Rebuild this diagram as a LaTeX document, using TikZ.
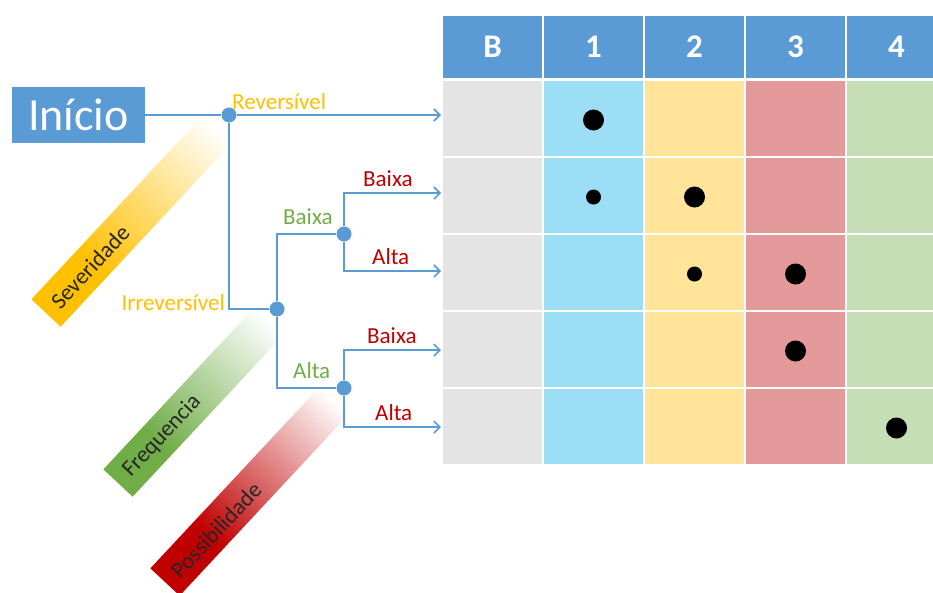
\documentclass[tikz,border=0pt]{standalone}
\usepackage{fontspec}
\setmainfont{Carlito}
\usetikzlibrary{arrows.meta}

\definecolor{lineblue}{HTML}{5B9BD5}
\definecolor{hdrblue}{HTML}{5B9BD5}
\definecolor{cgray}{HTML}{E4E4E4}
\definecolor{cblue}{HTML}{9DDEF7}
\definecolor{cyel}{HTML}{FFE499}
\definecolor{cred}{HTML}{E49A9A}
\definecolor{cgreen}{HTML}{C5DEB5}
\definecolor{txtyellow}{HTML}{FFC000}
\definecolor{txtgreen}{HTML}{70AD47}
\definecolor{txtred}{HTML}{C00000}

% a slanted band, solid at its foot and fading to white towards its head
\newcommand\gradband[4]{%
  \begin{scope}[shift={(#1,#2)}, rotate=47]
    \foreach \i in {0,...,59}{
      \pgfmathsetmacro\p{max(0,min(100,100*(1-(\i/60-0.25)/0.75)))}
      \fill[#4!\p!white] ({#3*\i/60},-20) rectangle ({#3*(\i+1)/60+0.6},20);
    }
  \end{scope}}

\begin{document}
\begin{tikzpicture}[x=1pt,y=-1pt,
  flow/.style={draw=lineblue, line width=2pt},
  arr/.style={flow, -{Straight Barb[length=6pt,width=12pt,line width=1.6pt]}},
  jn/.style={circle, fill=lineblue, minimum size=15pt, inner sep=0},
  lbl/.style={font=\fontsize{23}{27}\selectfont, inner sep=0, anchor=base west},
  bandtxt/.style={font=\fontsize{23}{27}\selectfont, inner sep=0, rotate=47, text=black!85},
  startbox/.style={fill=hdrblue, text=white, minimum width=133pt, minimum height=56pt,
    inner sep=0, font=\fontsize{46}{50}\selectfont},
  hcell/.style={fill=hdrblue, text=white, minimum width=99pt, minimum height=62pt,
    inner sep=0, font=\fontsize{33}{36}\selectfont\bfseries},
  cell/.style={minimum width=99pt, minimum height=75pt, inner sep=0},
  bigdot/.style={circle, fill=black, minimum size=21pt, inner sep=0, yshift=-1.5pt},
  smalldot/.style={circle, fill=black, minimum size=15pt, inner sep=0, yshift=-1.5pt}]

\useasboundingbox (0,0) rectangle (933,592);
\clip (0,0) rectangle (933,592);

% fading criteria bands
\gradband{46}{313}{250}{txtyellow}
\gradband{118}{483}{220}{txtgreen}
\gradband{165}{582}{246}{txtred}
\node[bandtxt] (tsev) at (90,267) {Severidade};
\node[bandtxt] (tfreq) at (162,436) {Frequencia};
\node[bandtxt] (tposs) at (216,530) {Possibilidade};

% table
\foreach \c/\t/\col in {0/B/cgray,1/1/cblue,2/2/cyel,3/3/cred,4/4/cgreen}{
  \node[hcell] (h\c) at ({492.5+101*\c},47) {\t};
  \foreach \r in {1,...,5}
    \node[cell, fill=\col] (c\r\c) at ({492.5+101*\c},{118.5+77*(\r-1)}) {};
}

% results
\node[bigdot] (d11) at (c11) {};
\node[smalldot] (d21) at (c21) {};
\node[bigdot] (d22) at (c22) {};
\node[smalldot] (d32) at (c32) {};
\node[bigdot] (d33) at (c33) {};
\node[bigdot] (d43) at (c43) {};
\node[bigdot] (d54) at (c54) {};

% decision tree
\node[startbox] (start) at (78.5,115) {Início};
\node[jn] (j1) at (229,115) {};
\node[jn] (j2) at (277,309) {};
\node[jn] (j3) at (344,234) {};
\node[jn] (j4) at (344,388) {};
\coordinate (t1) at (441,115);
\coordinate (t2) at (441,193);
\coordinate (t3) at (441,271);
\coordinate (t4) at (441,350);
\coordinate (t5) at (441,427);

\draw[flow] (start.east) -- (j1);
\draw[arr] (j1) -- (t1);
\draw[flow] (j1) |- (j2);
\draw[flow] (j2) |- (j3);
\draw[flow] (j2) |- (j4);
\draw[arr] (j3) |- (t2);
\draw[arr] (j3) |- (t3);
\draw[arr] (j4) |- (t4);
\draw[arr] (j4) |- (t5);

% branch labels
\node[lbl, text=txtyellow] (lrev) at (232,109) {Reversível};
\node[lbl, text=txtyellow, anchor=base east] (lirr) at (225,310) {Irreversível};
\node[lbl, text=txtgreen] (lfb) at (283,224) {Baixa};
\node[lbl, text=txtgreen] (lfa) at (293,378) {Alta};
\node[lbl, text=txtred] (lp1) at (363,186) {Baixa};
\node[lbl, text=txtred] (lp2) at (372,264) {Alta};
\node[lbl, text=txtred] (lp3) at (367,343) {Baixa};
\node[lbl, text=txtred] (lp4) at (375,420) {Alta};
\end{tikzpicture}
\end{document}
